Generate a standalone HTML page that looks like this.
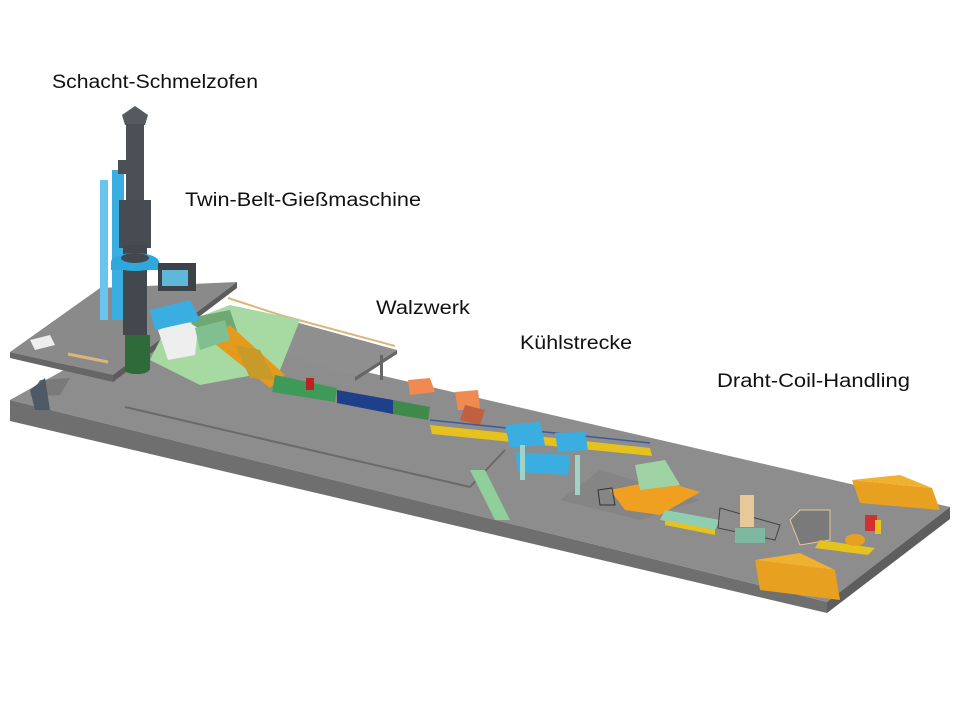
<!DOCTYPE html>
<html><head><meta charset="utf-8"><style>
html,body{margin:0;padding:0;background:#fff;width:960px;height:720px;overflow:hidden}
svg{display:block}
text{font-family:"Liberation Sans",sans-serif;font-size:19px;fill:#111}
</style></head><body>
<svg width="960" height="720" viewBox="0 0 960 720">
<!-- main floor -->
<polygon points="10,400 150,322 950,507 827,602" fill="#8d8d8d"/>
<polygon points="10,400 827,602 827,613 10,421" fill="#6f6f6f"/>
<polygon points="827,602 950,507 950,519 827,613" fill="#5e5e5e"/>
<!-- step edges -->
<polyline points="125,407 470,487" stroke="#6a6a6a" stroke-width="2" fill="none"/>
<polyline points="470,487 505,450" stroke="#6a6a6a" stroke-width="2" fill="none"/>
<polygon points="600,470 700,500 640,520 560,500" fill="#858585"/>
<!-- upper left deck -->
<polygon points="10,352 100,288 237,282 113,375" fill="#8a8a8a"/>
<polygon points="10,352 113,375 113,382 10,358" fill="#666"/>
<polygon points="113,375 237,282 237,288 113,382" fill="#5c5c5c"/>
<polyline points="68,354 108,362" stroke="#d9b77a" stroke-width="3" fill="none"/>
<polygon points="30,340 50,335 55,345 35,350" fill="#eee"/>
<polygon points="40,380 70,378 60,395 30,396" fill="#7a7a7a"/>
<polygon points="30,390 45,378 50,410 35,410" fill="#4d5a66"/>
<!-- second deck -->
<polygon points="270,315 397,350 355,377 240,340" fill="#8f8f8f"/>
<polygon points="355,377 397,350 397,354 355,381" fill="#666"/>
<polyline points="228,298 280,315 395,346" stroke="#d9b77a" stroke-width="2" fill="none"/>
<rect x="380" y="355" width="3" height="25" fill="#666"/>
<!-- green equipment area -->
<polygon points="165,330 230,305 300,320 280,370 200,385 150,360" fill="#a7d9a3"/>
<polygon points="190,318 230,310 240,340 200,345" fill="#6fa873"/>
<!-- orange tilted unit -->
<polygon points="210,340 230,325 285,375 270,388" fill="#e69a1c"/>
<polygon points="235,345 260,350 275,380 250,378" fill="#c89a2a"/>
<!-- mill line -->
<polygon points="275,375 337,388 335,402 272,392" fill="#3f9a5a"/>
<polygon points="337,390 393,400 393,414 337,403" fill="#1e3f8a"/>
<polygon points="393,400 430,407 428,420 393,414" fill="#3f8a4a"/>
<rect x="306" y="378" width="8" height="12" fill="#c02020"/>
<polygon points="408,380 430,378 435,392 410,395" fill="#f08a50"/>
<polygon points="455,392 478,390 480,410 458,410" fill="#f08a50"/>
<polygon points="465,405 485,410 480,425 460,420" fill="#c06040"/>
<!-- conveyor -->
<polygon points="430,425 650,448 652,456 432,434" fill="#e6c21e"/>
<polyline points="430,420 650,443" stroke="#3a5a9a" stroke-width="1.5" fill="none"/>
<!-- blue cooling boxes -->
<polygon points="505,425 540,422 545,445 510,448" fill="#3aaee0"/>
<polygon points="555,433 585,432 588,450 558,452" fill="#3aaee0"/>
<polygon points="515,452 570,455 568,475 518,472" fill="#3aaee0"/>
<rect x="520" y="445" width="5" height="35" fill="#9fd3c8"/>
<rect x="575" y="455" width="5" height="40" fill="#9fd3c8"/>
<!-- stairs -->
<polygon points="470,470 485,470 510,520 495,520" fill="#8fcf9a"/>
<!-- orange table -->
<polygon points="610,490 660,480 700,492 660,515 625,510" fill="#f0a020"/>
<polygon points="635,465 665,460 680,485 640,490" fill="#9fd3a5"/>
<polygon points="598,490 612,488 615,505 600,505" fill="none" stroke="#333"/>
<!-- roller lines -->
<polygon points="665,510 720,520 715,530 660,520" fill="#8fcfb0"/>
<polygon points="665,520 715,530 715,535 665,525" fill="#e6c21e"/>
<polygon points="720,508 780,525 775,540 718,528" fill="none" stroke="#444"/>
<rect x="740" y="495" width="14" height="32" fill="#e6c89a"/>
<rect x="735" y="528" width="30" height="15" fill="#7fb8a0"/>
<polygon points="790,520 800,510 830,510 830,540 800,545" fill="#7a7a7a" stroke="#e6c89a"/>
<polygon points="820,540 875,548 868,555 815,548" fill="#e6c21e"/>
<!-- forklift -->
<rect x="865" y="515" width="12" height="16" fill="#d03030"/>
<rect x="875" y="520" width="6" height="14" fill="#e6c21e"/>
<ellipse cx="855" cy="540" rx="10" ry="6" fill="#e8a020"/>
<!-- coil stacks -->
<polygon points="852,480 932,488 940,510 860,503" fill="#e8a020"/>
<polygon points="852,480 900,475 932,488" fill="#f0b030"/>
<polygon points="755,560 835,570 840,600 760,590" fill="#e8a020"/>
<polygon points="755,560 800,553 835,570" fill="#f0b030"/>
<!-- tower -->
<rect x="112" y="170" width="12" height="150" fill="#3aaee0"/>
<rect x="100" y="180" width="8" height="140" fill="#6ac4ee"/>
<polygon points="122,115 135,106 148,115 145,125 125,125" fill="#555a60"/>
<rect x="126" y="124" width="18" height="80" fill="#4b5056"/>
<rect x="118" y="160" width="8" height="14" fill="#4b5056"/>
<rect x="119" y="200" width="32" height="48" fill="#474c52"/>
<rect x="123" y="245" width="24" height="90" fill="#43484e"/>
<ellipse cx="135" cy="262" rx="24" ry="9" fill="#2fa8dc"/>
<rect x="111" y="262" width="48" height="8" fill="#2fa8dc"/>
<ellipse cx="135" cy="258" rx="14" ry="5" fill="#43484e"/>
<rect x="125" y="335" width="25" height="35" fill="#2f6b3a"/>
<ellipse cx="137" cy="370" rx="12" ry="4" fill="#2f6b3a"/>
<!-- cabin -->
<rect x="158" y="263" width="38" height="28" fill="#3c4248"/>
<rect x="162" y="270" width="26" height="16" fill="#5fb8d8"/>
<!-- white box -->
<polygon points="158,330 185,320 198,328 195,355 168,360" fill="#eeeeee"/>
<polygon points="195,328 225,320 230,340 200,350" fill="#7fbf90"/>
<!-- blue duct -->
<polygon points="150,310 190,300 200,320 155,330" fill="#3aaee0"/>
<!-- labels -->
<text x="52" y="88" textLength="206" lengthAdjust="spacingAndGlyphs">Schacht-Schmelzofen</text>
<text x="185" y="206" textLength="236" lengthAdjust="spacingAndGlyphs">Twin-Belt-Gießmaschine</text>
<text x="376" y="314" textLength="94" lengthAdjust="spacingAndGlyphs">Walzwerk</text>
<text x="520" y="349" textLength="112" lengthAdjust="spacingAndGlyphs">Kühlstrecke</text>
<text x="717" y="387" textLength="193" lengthAdjust="spacingAndGlyphs">Draht-Coil-Handling</text>
</svg>
</body></html>
